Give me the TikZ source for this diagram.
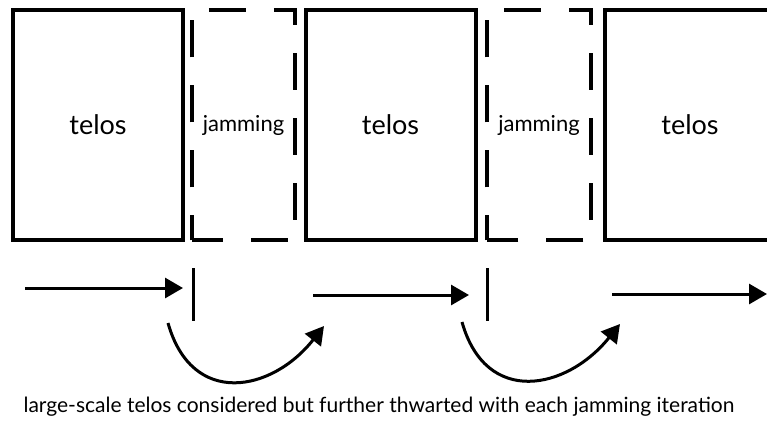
\documentclass[tikz,border=0pt]{standalone}
\usepackage{fontspec}
\setmainfont{Lato}
\usetikzlibrary{arrows.meta}

\tikzset{
  telosbox/.style={draw, line width=2pt, minimum width=85pt, minimum height=115pt, inner sep=0pt, font=\fontsize{13.5}{16}\selectfont},
  jambox/.style={minimum width=51.5pt, minimum height=115pt, inner sep=0pt, font=\fontsize{11}{13}\selectfont},
  jamline/.style={line width=2pt, dash pattern=on 18.5pt off 14pt, dash phase=6pt},
  flow/.style={line width=1.5pt, -{Triangle[length=9pt,width=10pt]}},
  stopbar/.style={line width=1.5pt}
}

\begin{document}
\begin{tikzpicture}[line join=miter,x=0.5pt,y=-0.5pt]
\useasboundingbox (0,0) rectangle (767,424);
%boxes
\node[telosbox] (t1) at (98,125) {telos};
\node[jambox] (j1) at (243.5,125) {jamming};
\node[telosbox] (t2) at (390.5,125) {telos};
\node[jambox] (j2) at (539,125) {jamming};
\node[telosbox] (t3) at (690,125) {telos};
\draw[jamline] (j1.south west) -- (j1.north west) -- (j1.north east) -- (j1.south east) -- cycle;
\draw[jamline] (j2.south west) -- (j2.north west) -- (j2.north east) -- (j2.south east) -- cycle;

%straight arrows
\coordinate (a1) at (25,288);
\coordinate (b1) at (183,288);
\coordinate (a2) at (313,295);
\coordinate (b2) at (469,295);
\coordinate (a3) at (612,294);
\coordinate (b3) at (767,294);
\draw[flow] (a1) -- (b1);
\draw[flow] (a2) -- (b2);
\draw[flow] (a3) -- (b3);

%stops
\coordinate (s1) at (193,268);
\coordinate (e1) at (193,321);
\coordinate (s2) at (487,268);
\coordinate (e2) at (487,321);
\draw[stopbar] (s1) -- (e1);
\draw[stopbar] (s2) -- (e2);

%jumps
\coordinate (c1) at (168,323);
\coordinate (d1) at (324,326);
\coordinate (c2) at (462,322);
\coordinate (d2) at (620,324);
\draw[flow] (c1) .. controls (192,408) and (272,392) .. (d1);
\draw[flow] (c2) .. controls (486,407) and (567,390) .. (d2);

\node[font=\fontsize{10.5}{12}\selectfont] (cap) at (379,407) {large-scale telos considered but further thwarted with each jamming iteration};
\end{tikzpicture}
\end{document}
